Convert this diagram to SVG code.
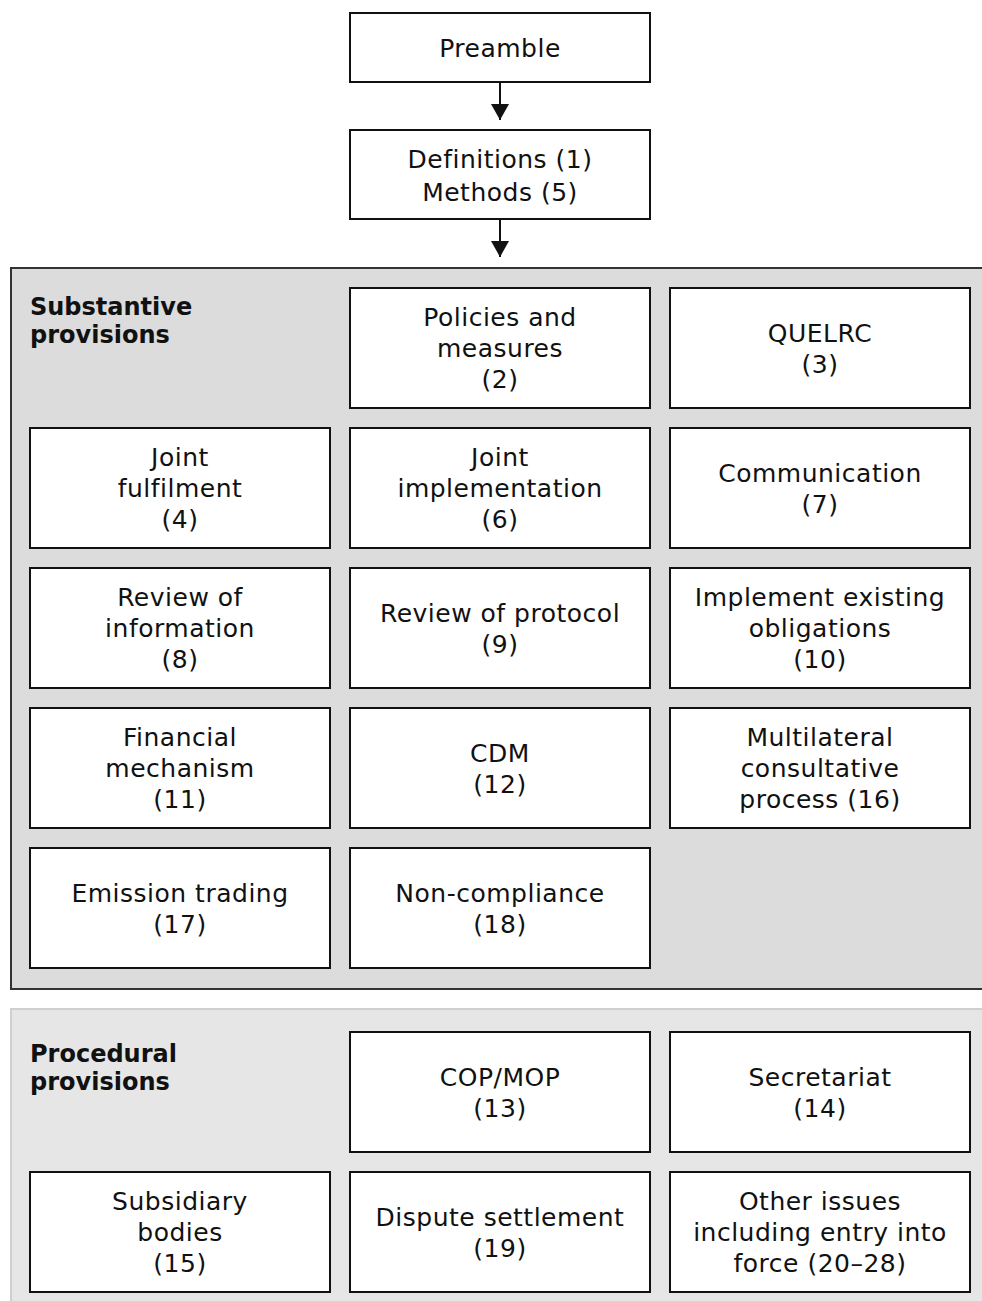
<svg xmlns="http://www.w3.org/2000/svg" width="982" height="1301" viewBox="0 0 982 1301">
<style>
.box{fill:#fff;stroke:#111;stroke-width:2}
.t{font-family:"DejaVu Sans",sans-serif;font-size:25px;letter-spacing:0.5px;fill:#111;text-anchor:middle}
.h{font-family:"DejaVu Sans",sans-serif;font-size:24px;font-weight:bold;fill:#111}
.conn{stroke:#111;stroke-width:2;fill:none}
</style>
<defs>
<marker id="ah" viewBox="0 0 16 18" refX="16" refY="9" markerWidth="16" markerHeight="18" markerUnits="userSpaceOnUse" orient="auto">
<path d="M0,0 L16,9 L0,18 Z" fill="#111"/>
</marker>
</defs>
<rect width="982" height="1301" fill="#fff"/>
<g id="panel-substantive">
<rect x="11" y="268" width="990" height="721" fill="#dcdcdc" stroke="#333" stroke-width="2"/>
<text class="h" x="30" y="315">Substantive</text>
<text class="h" x="30" y="343">provisions</text>
</g>
<g id="panel-procedural">
<rect x="11" y="1009" width="990" height="310" fill="#e6e6e6" stroke="#cfcfcf" stroke-width="2"/>
<text class="h" x="30" y="1062">Procedural</text>
<text class="h" x="30" y="1090">provisions</text>
</g>
<g id="connectors">
<line class="conn" x1="500" y1="82" x2="500" y2="120" marker-end="url(#ah)"/>
<line class="conn" x1="500" y1="219" x2="500" y2="257" marker-end="url(#ah)"/>
</g>
<g id="preamble"><rect class="box" x="350" y="13" width="300" height="69"/><text class="t" x="500" y="57">Preamble</text></g>
<g id="definitions"><rect class="box" x="350" y="130" width="300" height="89"/><text class="t" x="500" y="168">Definitions (1)</text><text class="t" x="500" y="201">Methods (5)</text></g>

<g id="policies"><rect class="box" x="350" y="288" width="300" height="120"/><text class="t" x="500" y="326">Policies and</text><text class="t" x="500" y="357">measures</text><text class="t" x="500" y="388">(2)</text></g>
<g id="quelrc"><rect class="box" x="670" y="288" width="300" height="120"/><text class="t" x="820" y="341.5">QUELRC</text><text class="t" x="820" y="372.5">(3)</text></g>

<g id="joint-fulfilment"><rect class="box" x="30" y="428" width="300" height="120"/><text class="t" x="180" y="466">Joint</text><text class="t" x="180" y="497">fulfilment</text><text class="t" x="180" y="528">(4)</text></g>
<g id="joint-implementation"><rect class="box" x="350" y="428" width="300" height="120"/><text class="t" x="500" y="466">Joint</text><text class="t" x="500" y="497">implementation</text><text class="t" x="500" y="528">(6)</text></g>
<g id="communication"><rect class="box" x="670" y="428" width="300" height="120"/><text class="t" x="820" y="481.5">Communication</text><text class="t" x="820" y="512.5">(7)</text></g>

<g id="review-information"><rect class="box" x="30" y="568" width="300" height="120"/><text class="t" x="180" y="606">Review of</text><text class="t" x="180" y="637">information</text><text class="t" x="180" y="668">(8)</text></g>
<g id="review-protocol"><rect class="box" x="350" y="568" width="300" height="120"/><text class="t" x="500" y="621.5">Review of protocol</text><text class="t" x="500" y="652.5">(9)</text></g>
<g id="implement-existing"><rect class="box" x="670" y="568" width="300" height="120"/><text class="t" x="820" y="606">Implement existing</text><text class="t" x="820" y="637">obligations</text><text class="t" x="820" y="668">(10)</text></g>

<g id="financial-mechanism"><rect class="box" x="30" y="708" width="300" height="120"/><text class="t" x="180" y="746">Financial</text><text class="t" x="180" y="777">mechanism</text><text class="t" x="180" y="808">(11)</text></g>
<g id="cdm"><rect class="box" x="350" y="708" width="300" height="120"/><text class="t" x="500" y="761.5">CDM</text><text class="t" x="500" y="792.5">(12)</text></g>
<g id="multilateral"><rect class="box" x="670" y="708" width="300" height="120"/><text class="t" x="820" y="746">Multilateral</text><text class="t" x="820" y="777">consultative</text><text class="t" x="820" y="808">process (16)</text></g>

<g id="emission-trading"><rect class="box" x="30" y="848" width="300" height="120"/><text class="t" x="180" y="901.5">Emission trading</text><text class="t" x="180" y="932.5">(17)</text></g>
<g id="non-compliance"><rect class="box" x="350" y="848" width="300" height="120"/><text class="t" x="500" y="901.5">Non-compliance</text><text class="t" x="500" y="932.5">(18)</text></g>

<g id="cop-mop"><rect class="box" x="350" y="1032" width="300" height="120"/><text class="t" x="500" y="1085.5">COP/MOP</text><text class="t" x="500" y="1116.5">(13)</text></g>
<g id="secretariat"><rect class="box" x="670" y="1032" width="300" height="120"/><text class="t" x="820" y="1085.5">Secretariat</text><text class="t" x="820" y="1116.5">(14)</text></g>

<g id="subsidiary-bodies"><rect class="box" x="30" y="1172" width="300" height="120"/><text class="t" x="180" y="1210">Subsidiary</text><text class="t" x="180" y="1241">bodies</text><text class="t" x="180" y="1272">(15)</text></g>
<g id="dispute-settlement"><rect class="box" x="350" y="1172" width="300" height="120"/><text class="t" x="500" y="1225.5">Dispute settlement</text><text class="t" x="500" y="1256.5">(19)</text></g>
<g id="other-issues"><rect class="box" x="670" y="1172" width="300" height="120"/><text class="t" x="820" y="1210">Other issues</text><text class="t" x="820" y="1241">including entry into</text><text class="t" x="820" y="1272">force (20–28)</text></g>
</svg>
